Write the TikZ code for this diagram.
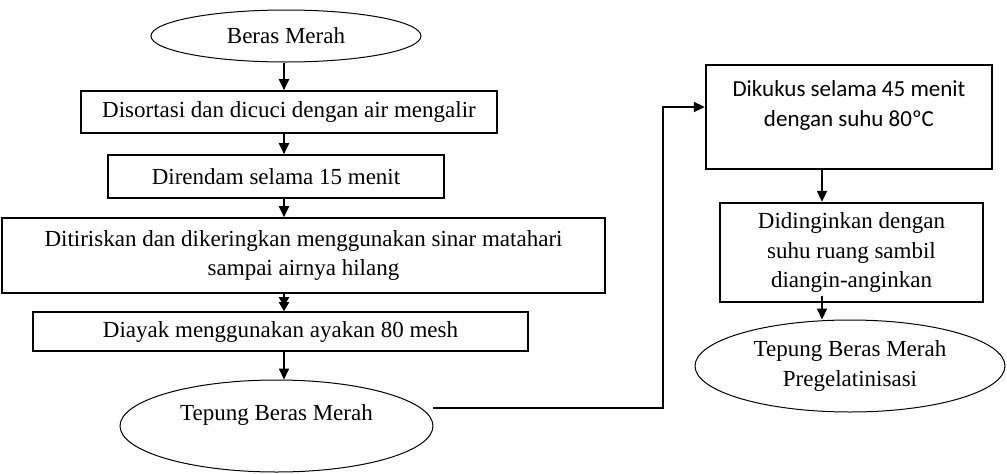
\documentclass[tikz,border=0pt]{standalone}
\usepackage{fontspec}
\setmainfont{Liberation Serif}
\newfontfamily\calib{Carlito}
\usetikzlibrary{shapes.geometric,arrows.meta,calc}
\begin{document}
\begin{tikzpicture}[x=1pt,y=-1pt,
  every node/.style={font=\fontsize{23}{29.5}\selectfont, inner sep=0pt},
  lbox/.style={draw, line width=1.6pt, rectangle, align=center},
  rbox/.style={draw, line width=2.4pt, rectangle, align=center},
  oval/.style={draw, line width=1pt, ellipse, align=center},
  sanslbl/.style={font=\calib\fontsize{23}{30}\selectfont, align=center},
  arr/.style={line width=2pt, -{Triangle[length=11pt,width=10pt]}},
  darr/.style={line width=2pt, -{Triangle[length=9pt,width=10pt,sep=-4pt]Triangle[length=9pt,width=10pt]}}
]
\useasboundingbox (0,0) rectangle (1007,474);

% left column
\node[oval, minimum width=270pt, minimum height=52pt] (e1) at (286,36) {Beras Merah};
\node[lbox, minimum width=416pt, minimum height=42pt] (b1) at (289,112) {Disortasi dan dicuci dengan air mengalir};
\node[lbox, minimum width=336pt, minimum height=43pt] (b2) at (276,176.5) {Direndam selama 15 menit};
\node[lbox, minimum width=603pt, minimum height=75pt] (b3) at (303.5,255.5) {Ditiriskan dan dikeringkan menggunakan sinar matahari\\sampai airnya hilang};
\node[lbox, minimum width=495pt, minimum height=39pt] (b4) at (280.5,331.5) {Diayak menggunakan ayakan 80 mesh};
\node[oval, minimum width=313pt, minimum height=92pt,
      label={[yshift=11pt]center:Tepung Beras Merah}] (e2) at (276.5,426) {};

% right column
\node[rbox, minimum width=286pt, minimum height=104pt,
      label={[sanslbl, yshift=12pt]center:{Dikukus selama 45 menit\\dengan suhu 80ºC}}] (dk) at (849,117) {};
\node[rbox, minimum width=263pt, minimum height=99pt] (dd) at (851.5,252.5) {Didinginkan dengan\\suhu ruang sambil\\diangin-anginkan};
\node[oval, minimum width=310pt, minimum height=92pt] (e3) at (850,366) {Tepung Beras Merah\\Pregelatinisasi};

% connectors
\coordinate (colL) at (284,0);
\coordinate (colR) at (822,0);
\coordinate (s) at (433,408);
\coordinate (bend) at (663,107);

\draw[arr] (e1.south -| colL) -- (b1.north -| colL);
\draw[arr] (b1.south -| colL) -- (b2.north -| colL);
\draw[arr] (b2.south -| colL) -- (b3.north -| colL);
\draw[darr] (b3.south -| colL) -- (b4.north -| colL);
\draw[arr] (b4.south -| colL) -- (e2.north -| colL);

\draw[arr] (s) -| (bend) -- (bend -| dk.west);
\draw[arr] (dk.south -| colR) -- (dd.north -| colR);
\draw[arr] ($(dd.south -| colR)+(0,-7)$) -- (e3.north -| colR);
\end{tikzpicture}
\end{document}
